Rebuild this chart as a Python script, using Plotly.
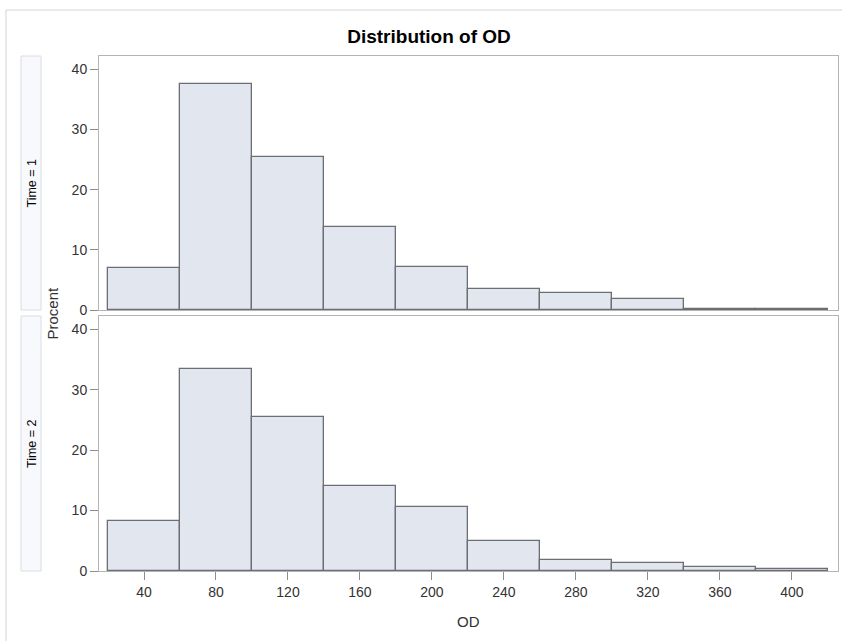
import plotly.graph_objects as go

W, H = 842, 641

bin_centers = [40, 80, 120, 160, 200, 240, 280, 320, 360, 400]
bin_width = 40
pct_time1 = [7.0, 37.6, 25.5, 13.8, 7.2, 3.5, 2.8, 1.9, 0.2, 0.2]
pct_time2 = [8.2, 33.4, 25.5, 14.1, 10.6, 4.9, 1.8, 1.3, 0.7, 0.3]
x_ticks = [40, 80, 120, 160, 200, 240, 280, 320, 360, 400]
y_ticks = [0, 10, 20, 30, 40]
panel_labels = ["Time = 1", "Time = 2"]

FONT = "Liberation Sans, Arial, sans-serif"
BAR_FILL = "#e2e6ef"
BAR_LINE = "#6b6e72"
FRAME = "#b4b4b4"
TICK = "#8e8e8e"
TXT = "#333333"

def px_x(v):
    return v / W

def px_y(v):
    return 1 - v / H

xdom = [px_x(99), px_x(838)]
top_dom = [px_y(310), px_y(56)]
bot_dom = [px_y(571), px_y(316)]

fig = go.Figure()
for vals, xa, ya in [(pct_time1, "x", "y"), (pct_time2, "x2", "y2")]:
    fig.add_trace(go.Bar(
        x=bin_centers, y=vals, width=bin_width,
        marker=dict(color=BAR_FILL, line=dict(color=BAR_LINE, width=1.3)),
        xaxis=xa, yaxis=ya, showlegend=False, hoverinfo="x+y",
    ))

xrange = [15, 425.6]
yrange = [0, 42.2]

common_x = dict(range=xrange, domain=xdom, showgrid=False, zeroline=False,
                showline=True, linecolor=FRAME, linewidth=1, mirror=True,
                automargin=False,
                tickvals=x_ticks, ticks="outside", ticklen=8, tickcolor=TICK,
                tickfont=dict(family=FONT, size=14, color=TXT))
common_y = dict(range=yrange, showgrid=False, zeroline=False,
                showline=True, linecolor=FRAME, linewidth=1, mirror=True,
                automargin=False,
                tickvals=y_ticks, ticks="outside", ticklen=8, tickcolor=TICK,
                tickfont=dict(family=FONT, size=14, color=TXT))

fig.update_layout(
    template="none",
    width=W, height=H, autosize=False,
    margin=dict(l=0, r=0, t=0, b=0, pad=0),
    paper_bgcolor="white", plot_bgcolor="white",
    bargap=0,
    xaxis=dict(common_x, anchor="y", showticklabels=False, ticks=""),
    yaxis=dict(common_y, domain=top_dom, anchor="x"),
    xaxis2=dict(common_x, anchor="y2"),
    yaxis2=dict(common_y, domain=bot_dom, anchor="x2"),
    title=dict(text="<b>Distribution of OD</b>", x=px_x(429), y=px_y(36),
               xanchor="center", yanchor="middle",
               font=dict(family=FONT, size=19, color="black")),
)

shapes = []
annotations = []
# outer frame
shapes.append(dict(type="line", xref="paper", yref="paper",
                   x0=px_x(6), x1=1, y0=px_y(10), y1=px_y(10),
                   line=dict(color="#d4d4d4", width=1)))
shapes.append(dict(type="line", xref="paper", yref="paper",
                   x0=px_x(6), x1=px_x(6), y0=0, y1=px_y(10),
                   line=dict(color="#d4d4d4", width=1)))
# strip label boxes
for lab, dom in zip(panel_labels, [top_dom, bot_dom]):
    shapes.append(dict(type="rect", xref="paper", yref="paper",
                       x0=px_x(21), x1=px_x(41), y0=dom[0], y1=dom[1],
                       fillcolor="#f8f9fd", line=dict(color="#d9dce2", width=1),
                       layer="below"))
    annotations.append(dict(text=lab, xref="paper", yref="paper",
                            x=px_x(31.5), y=(dom[0] + dom[1]) / 2,
                            showarrow=False, textangle=-90,
                            xanchor="center", yanchor="middle",
                            font=dict(family=FONT, size=12.5, color="black")))
# shared y title
annotations.append(dict(text="Procent", xref="paper", yref="paper",
                        x=px_x(52), y=px_y(313.5), showarrow=False, textangle=-90,
                        xanchor="center", yanchor="middle",
                        font=dict(family=FONT, size=15, color=TXT)))
# x title
annotations.append(dict(text="OD", xref="paper", yref="paper",
                        x=(xdom[0] + xdom[1]) / 2, y=px_y(621), showarrow=False,
                        xanchor="center", yanchor="middle",
                        font=dict(family=FONT, size=15, color=TXT)))

fig.update_layout(shapes=shapes, annotations=annotations)

fig.write_html("out.html", config={"displayModeBar": False},
               post_script="document.body.style.margin='0px';document.body.style.overflow='hidden';")
